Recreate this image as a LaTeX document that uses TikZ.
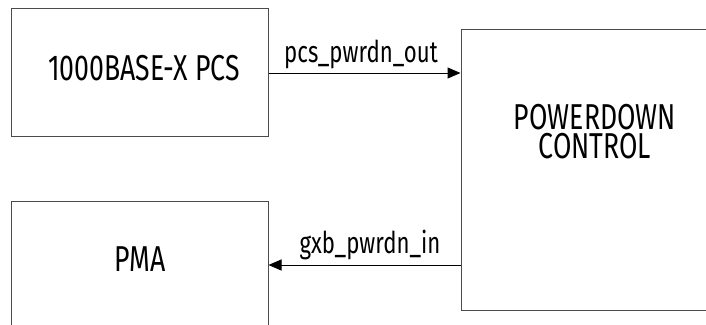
\documentclass[tikz,border=0pt]{standalone}
\usepackage{fontspec}
\setmainfont[FakeStretch=0.74]{Fira Sans}
\usetikzlibrary{arrows.meta}
\begin{document}
\begin{tikzpicture}[x=1pt,y=1pt,
  blk/.style={draw=black!70,line width=1pt,inner sep=0pt},
  arr/.style={line width=1pt,-{Triangle[length=13pt,width=11pt]}},
  big/.style={font=\fontsize{36}{29}\selectfont,inner sep=0pt,align=center},
  lbl/.style={font=\fontsize{30}{32}\selectfont,inner sep=0pt,anchor=base}]
\useasboundingbox (0,0) rectangle (706,-324);
\clip (0,0) rectangle (706,-324);
\node[blk,minimum width=257pt,minimum height=128pt] (pcs) at (139.5,-72) {};
\node[blk,minimum width=257pt,minimum height=139pt] (pma) at (139.5,-270.5) {};
\node[blk,minimum width=259pt,minimum height=281pt] (pwr) at (590.5,-169.5) {};
\node[big,anchor=base] (t1) at (144,-80) {1000BASE-X PCS};
\node[big,anchor=base] (t2) at (140,-271) {PMA};
\node[big,anchor=base] (t3) at (595,-158) {POWERDOWN\\CONTROL};
\draw[arr] ([yshift=-1pt]pcs.east) -- ([yshift=-1pt]pcs.east -| pwr.west);
\draw[arr] ([yshift=5.5pt]pma.east -| pwr.west) -- ([yshift=5.5pt]pma.east);
\node[lbl] (l1) at (361,-62) {pcs\_pwrdn\_out};
\node[lbl] (l2) at (370,-253) {gxb\_pwrdn\_in};
\end{tikzpicture}
\end{document}
